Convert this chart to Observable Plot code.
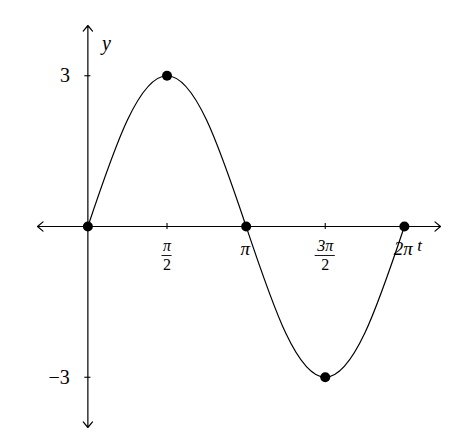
<!DOCTYPE html>
<html><head><meta charset="utf-8">
<script src="https://cdn.jsdelivr.net/npm/d3@7"></script>
<script src="https://cdn.jsdelivr.net/npm/@observablehq/plot@0.6"></script>
<style>body{margin:0;background:#fff}</style>
</head><body><div id="chart"></div>
<script>
// curve samples (y = 3 sin t)
const curveT = [0, 0.785, 1.571, 2.356, 3.142, 3.927, 4.712, 5.498, 6.283];
const curveY = [0, 2.12, 3, 2.12, 0, -2.12, -3, -2.12, 0];
// marked points
const pointT = [0, 1.571, 3.142, 4.712, 6.283];
const pointY = [0, 3, 0, -3, 0];
// ticks
const xTicks = [1.571, 3.142, 4.712, 6.283];
const yTicks = [3, -3];
const yTickLabels = ["3", "−3"];
const xPlainT = [3.142, 6.283];
const xPlainLabels = ["π", "2π"];
const xFracT = [1.571, 4.712];
const xFracNum = ["π", "3π"];
const xFracDen = ["2", "2"];
// axis extents
const axisX = [-1, 7];
const axisY = [-4, 4];

const curve = curveT.map((t, i) => ({t, y: curveY[i]}));
const points = pointT.map((t, i) => ({t, y: pointY[i]}));
const yLab = yTicks.map((v, i) => ({v, label: yTickLabels[i]}));
const xPlain = xPlainT.map((t, i) => ({t, label: xPlainLabels[i]}));
const xFrac = xFracT.map((t, i) => ({t, num: xFracNum[i], den: xFracDen[i]}));
const arrows = [
  ...axisX.map(e => ({x1: 0, y1: 0, x2: e, y2: 0})),
  ...axisY.map(e => ({x1: 0, y1: 0, x2: 0, y2: e}))
];
const tick = 0.06;
const font = "'Liberation Serif', 'Times New Roman', serif";

const chart = Plot.plot({
  width: 458, height: 440,
  margin: 0,
  x: {domain: [-1, 7], range: [37, 440], axis: null},
  y: {domain: [-4, 4], range: [427, 25], axis: null},
  style: {fontFamily: font, background: "#fff", overflow: "visible"},
  marks: [
    Plot.arrow(arrows, {x1: "x1", y1: "y1", x2: "x2", y2: "y2", stroke: "black", strokeWidth: 1.2, headLength: 9, headAngle: 80}),
    Plot.ruleX(xTicks, {x: d => d, y1: -tick, y2: tick, stroke: "black", strokeWidth: 1.1}),
    Plot.ruleY(yTicks, {y: d => d, x1: -tick, x2: tick, stroke: "black", strokeWidth: 1.1}),
    Plot.line(curve, {x: "t", y: "y", curve: "natural", stroke: "black", strokeWidth: 1.2}),
    Plot.dot(points, {x: "t", y: "y", r: 5, fill: "black"}),
    Plot.text(yLab, {x: 0, y: "v", text: "label", dx: -18, textAnchor: "end", fontSize: 20, fill: "black"}),
    Plot.text(xPlain, {x: "t", y: 0, text: "label", dy: 22, dx: -1, fontSize: 19, fontStyle: "italic", fill: "black"}),
    Plot.text(xFrac, {x: "t", y: 0, text: "num", dy: 19.5, fontSize: 16, fontStyle: "italic", fill: "black"}),
    Plot.ruleY(xFrac, {y: 0, x1: d => d.t - 0.1 * d.num.length, x2: d => d.t + 0.1 * d.num.length, dy: 29, stroke: "black", strokeWidth: 0.9}),
    Plot.text(xFrac, {x: "t", y: 0, text: "den", dy: 38.5, fontSize: 16, fill: "black"}),
    Plot.text(["t"], {x: axisX[1], y: 0, text: d => d, dx: -21, dy: 19, fontSize: 17, fontStyle: "italic", fill: "black"}),
    Plot.text(["y"], {x: 0, y: axisY[1], text: d => d, dx: 18.5, dy: 18, fontSize: 20, fontStyle: "italic", fill: "black"})
  ]
});
document.getElementById("chart").appendChild(chart);
</script>
</body></html>
